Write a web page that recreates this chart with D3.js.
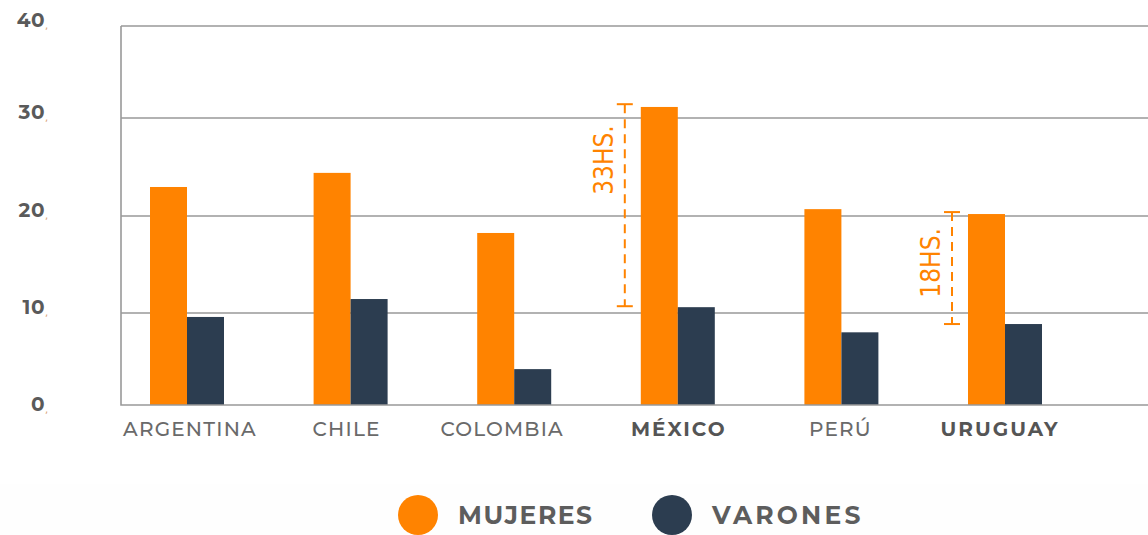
<!DOCTYPE html>
<html>
<head>
<meta charset="utf-8">
<script src="https://cdn.jsdelivr.net/npm/d3@7"></script>
<style>
  html, body { margin: 0; padding: 0; background: #fff; }
  svg { display: block; }
</style>
</head>
<body>
<div id="chart"></div>
<script>
const countries = ['ARGENTINA', 'CHILE', 'COLOMBIA', 'MÉXICO', 'PERÚ', 'URUGUAY'];
const boldCountries = ['MÉXICO', 'URUGUAY'];
const mujeres = [22.96, 24.4, 18.25, 31.2, 20.7, 20.2];
const varones = [9.57, 11.44, 3.9, 10.6, 7.9, 8.8];
const yTicks = [0, 10, 20, 30, 40];
const seriesNames = ['MUJERES', 'VARONES'];
const seriesColors = ['#ff8300', '#2c3d50'];
// hour-gap brackets: country, bottom, top, label
const gapCountries = ['MÉXICO', 'URUGUAY'];
const gapFrom = [10.7, 8.8];
const gapTo = [31.5, 20.4];
const gapLabels = ['33HS.', '18HS.'];

const W = 1148, H = 535;
const svg = d3.select('#chart').append('svg').attr('width', W).attr('height', H);

// faint band behind the legend
svg.append('rect').attr('x', 0).attr('y', 484).attr('width', W).attr('height', H - 484).attr('fill', '#fefefe');

const plotL = 121, plotR = W;
// the original grid is not evenly spaced, so map each tick to its drawn height
const y = d3.scaleLinear().domain(yTicks).range([405, 313, 216, 118, 26]);
const plotT = y(40), plotB = y(0);
const x = d3.scalePoint().domain(countries).range([187, 1005]);
const xs = d3.scaleBand().domain(seriesNames).range([-37, 37]);

// gridlines
svg.append('g').selectAll('line').data(yTicks.filter(t => t > 0)).join('line')
  .attr('x1', plotL).attr('x2', plotR)
  .attr('y1', d => y(d)).attr('y2', d => y(d))
  .attr('stroke', '#999').attr('stroke-width', 1.6);

// bars
const rows = countries.map((c, i) => ({ c, vals: [mujeres[i], varones[i]] }));
const grp = svg.append('g').selectAll('g').data(rows).join('g')
  .attr('transform', d => `translate(${x(d.c)},0)`);
grp.selectAll('rect').data(d => d.vals.map((v, j) => ({ v, s: seriesNames[j], j }))).join('rect')
  .attr('x', d => xs(d.s)).attr('width', xs.bandwidth())
  .attr('y', d => y(d.v)).attr('height', d => y(0) - y(d.v))
  .attr('fill', d => seriesColors[d.j]);

// frame: left + bottom
svg.append('path')
  .attr('d', `M${plotL},${plotT}V${plotB}H${plotR}`)
  .attr('fill', 'none').attr('stroke', '#999').attr('stroke-width', 1.6);

// y labels
svg.append('g').selectAll('text').data(yTicks).join('text')
  .attr('x', 45).attr('y', d => y(d) + (d === 0 ? 6 : 1))
  .attr('text-anchor', 'end')
  .attr('font-family', 'Montserrat, "DejaVu Sans", sans-serif')
  .attr('font-weight', 700).attr('font-size', 20).attr('fill', '#5a5a5a')
  .attr('letter-spacing', 0.5)
  .text(d => d);
svg.append('g').selectAll('text').data(yTicks).join('text')
  .attr('x', 45).attr('y', d => y(d) + (d === 0 ? 8 : 3))
  .attr('font-family', '"DejaVu Sans", sans-serif')
  .attr('font-size', 10).attr('fill', '#d8a070')
  .text(',');

// x labels
const xOff = { 'ARGENTINA': 3, 'CHILE': -4, 'COLOMBIA': -12, 'MÉXICO': 1, 'PERÚ': -1, 'URUGUAY': -5 };
svg.append('g').selectAll('text').data(countries).join('text')
  .attr('x', d => x(d) + xOff[d])
  .attr('y', 436)
  .attr('text-anchor', 'middle')
  .attr('font-family', 'Montserrat, "DejaVu Sans", sans-serif')
  .attr('font-size', 20)
  .attr('font-weight', d => boldCountries.includes(d) ? 700 : 500)
  .attr('fill', d => boldCountries.includes(d) ? '#555' : '#6a6a6a')
  .attr('letter-spacing', d => boldCountries.includes(d) ? 2 : 1.2)
  .text(d => d);

// gap brackets
const gaps = gapCountries.map((c, i) => ({ c, from: gapFrom[i], to: gapTo[i], label: gapLabels[i] }));
const orange = seriesColors[0];
const gg = svg.append('g').selectAll('g').data(gaps).join('g')
  .attr('transform', d => `translate(${x(d.c) - 53},0)`);
gg.append('line')
  .attr('x1', 0).attr('x2', 0)
  .attr('y1', d => y(d.to)).attr('y2', d => y(d.from))
  .attr('stroke', orange).attr('stroke-width', 2).attr('stroke-dasharray', '9,6');
gg.selectAll('line.cap').data(d => [d.to, d.from]).join('line')
  .attr('class', 'cap')
  .attr('x1', -8).attr('x2', 8)
  .attr('y1', d => y(d)).attr('y2', d => y(d))
  .attr('stroke', orange).attr('stroke-width', 2);
gg.append('text')
  .attr('transform', (d, i) => `translate(-12,${y(d.to) + (i === 0 ? 21 : 16)}) rotate(-90)`)
  .attr('text-anchor', 'end')
  .attr('font-family', '"Liberation Sans Narrow", "DejaVu Sans Condensed", sans-serif')
  .attr('font-size', 26).attr('fill', orange)
  .text(d => d.label);

// legend
const lg = svg.append('g').selectAll('g').data(seriesNames).join('g')
  .attr('transform', (d, i) => `translate(${418 + i * 254},515)`);
lg.append('circle').attr('r', 20).attr('fill', (d, i) => seriesColors[i]);
lg.append('text')
  .attr('x', 40).attr('y', 9)
  .attr('font-family', 'Montserrat, "DejaVu Sans", sans-serif')
  .attr('font-weight', 700).attr('font-size', 25).attr('fill', '#5d5d5d')
  .attr('letter-spacing', (d, i) => i === 1 ? 3.2 : 1.5)
  .text(d => d);
</script>
</body>
</html>
